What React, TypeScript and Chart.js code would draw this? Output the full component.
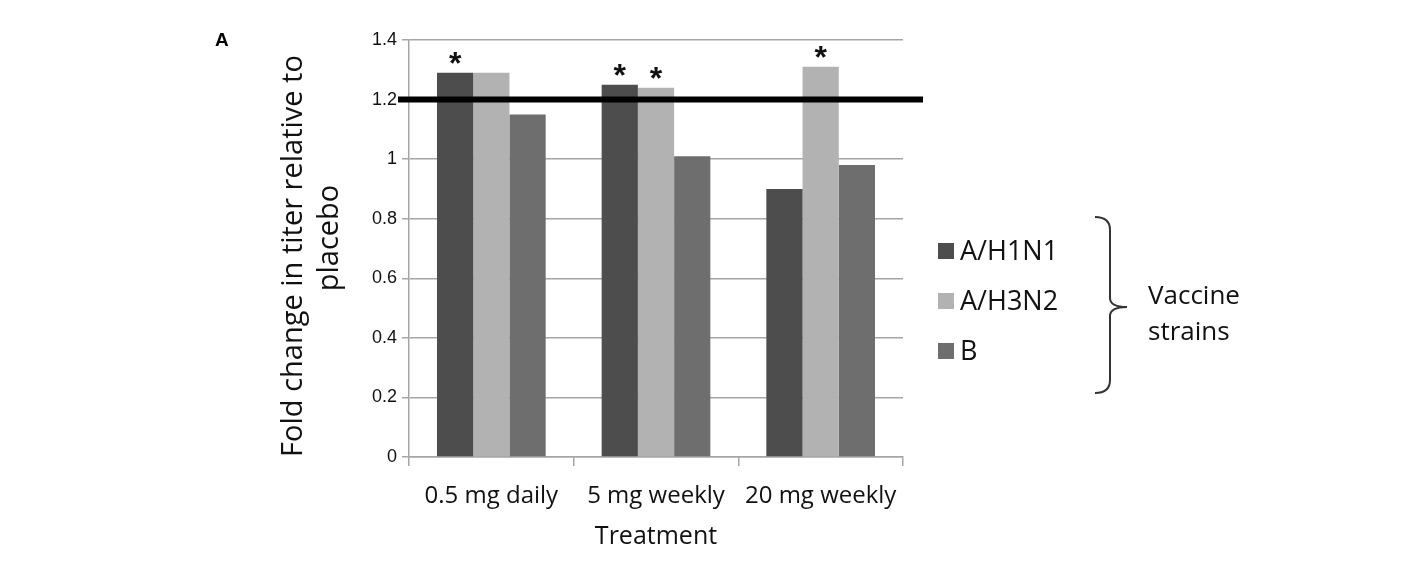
import React, { useEffect, useRef } from 'react';
import { Chart, registerables } from 'chart.js';

Chart.register(...registerables);

const TREATMENTS = ['0.5 mg daily', '5 mg weekly', '20 mg weekly'];
const STRAINS = ['A/H1N1', 'A/H3N2', 'B'];
const H1N1 = [1.29, 1.25, 0.9];
const H3N2 = [1.29, 1.24, 1.31];
const FLU_B = [1.15, 1.01, 0.98];
// asterisks above bars
const H1N1_SIG = [true, true, false];
const H3N2_SIG = [false, true, true];
const FLU_B_SIG = [false, false, false];
const COLORS = ['#4d4d4d', '#b2b2b2', '#6e6e6e'];
const Y_TICK_LABELS = ['0', '0.2', '0.4', '0.6', '0.8', '1', '1.2', '1.4'];
const THRESHOLD = 1.2;
const Y_TITLE = ['Fold change in titer relative to', 'placebo'];
const X_TITLE = 'Treatment';
const BRACKET_LABEL = ['Vaccine', 'strains'];
const PANEL = 'A';

const SIGS = [H1N1_SIG, H3N2_SIG, FLU_B_SIG];
const SANS = '"Open Sans", sans-serif';
const ARIAL = '"Liberation Sans", Arial, sans-serif';

const overlay = {
  id: 'overlay',
  afterDatasetsDraw(chart: any) {
    const { ctx, chartArea, scales } = chart;
    ctx.save();

    // significance stars
    ctx.fillStyle = '#111';
    ctx.font = `bold 32px ${ARIAL}`;
    ctx.textAlign = 'center';
    ctx.textBaseline = 'alphabetic';
    SIGS.forEach((sig, di) => {
      const meta = chart.getDatasetMeta(di);
      sig.forEach((s, i) => {
        if (!s) return;
        const bar = meta.data[i];
        ctx.fillText('*', bar.x, bar.y + 1);
      });
    });

    // threshold line
    const ty = scales.y.getPixelForValue(THRESHOLD);
    ctx.strokeStyle = '#000';
    ctx.lineWidth = 6;
    ctx.beginPath();
    ctx.moveTo(chartArea.left - 11, ty);
    ctx.lineTo(chartArea.right + 20, ty);
    ctx.stroke();

    // panel letter
    ctx.fillStyle = '#000';
    ctx.font = `bold 19px ${ARIAL}`;
    ctx.textAlign = 'left';
    ctx.textBaseline = 'alphabetic';
    ctx.fillText(PANEL, 215, 46);

    // y title, two rotated lines
    ctx.fillStyle = '#111';
    ctx.font = `29px ${SANS}`;
    ctx.textAlign = 'center';
    const yLines = [
      { x: 302, y: 256 },
      { x: 338, y: 238 },
    ];
    Y_TITLE.forEach((t, i) => {
      ctx.save();
      ctx.translate(yLines[i].x, yLines[i].y);
      ctx.rotate(-Math.PI / 2);
      ctx.fillText(t, 0, 0);
      ctx.restore();
    });

    // legend
    ctx.font = `27px ${SANS}`;
    ctx.textAlign = 'left';
    ctx.textBaseline = 'middle';
    chart.data.datasets.forEach((ds: any, i: number) => {
      const cy = 251 + i * 50;
      ctx.fillStyle = ds.backgroundColor;
      ctx.fillRect(938, cy - 8, 16, 16);
      ctx.fillStyle = '#111';
      ctx.fillText(ds.label, 960, cy + 1);
    });

    // bracket
    ctx.strokeStyle = '#333';
    ctx.lineWidth = 2;
    ctx.beginPath();
    ctx.moveTo(1095, 217);
    ctx.quadraticCurveTo(1110, 217, 1110, 230);
    ctx.lineTo(1110, 298);
    ctx.quadraticCurveTo(1110, 307, 1127, 307);
    ctx.moveTo(1110, 316);
    ctx.quadraticCurveTo(1110, 307, 1127, 307);
    ctx.moveTo(1110, 316);
    ctx.lineTo(1110, 380);
    ctx.quadraticCurveTo(1110, 393, 1095, 393);
    ctx.stroke();

    ctx.fillStyle = '#111';
    ctx.font = `26px ${SANS}`;
    ctx.fillText(BRACKET_LABEL[0], 1148, 297);
    ctx.fillText(BRACKET_LABEL[1], 1148, 333);

    ctx.restore();
  },
};

function FoldChangeChart() {
  const canvasRef = useRef<HTMLCanvasElement>(null);

  useEffect(() => {
    document.body.style.margin = '0';
    const ctx = canvasRef.current!.getContext('2d')!;
    const chart = new Chart(ctx, {
      type: 'bar',
      data: {
        labels: TREATMENTS,
        datasets: [
          { label: STRAINS[0], data: H1N1, backgroundColor: COLORS[0] },
          { label: STRAINS[1], data: H3N2, backgroundColor: COLORS[1] },
          { label: STRAINS[2], data: FLU_B, backgroundColor: COLORS[2] },
        ],
      },
      options: {
        responsive: true,
        maintainAspectRatio: false,
        animation: false,
        layout: { padding: { top: 40, right: 511, bottom: 0, left: 0 } },
        datasets: { bar: { categoryPercentage: 0.66, barPercentage: 1 } },
        plugins: { legend: { display: false }, tooltip: { enabled: false } },
        scales: {
          x: {
            afterFit: (s: any) => { s.height = 105; },
            grid: { display: true, drawOnChartArea: false, offset: true, tickLength: 9, color: '#a6a6a6', lineWidth: 1.5 },
            border: { color: '#a6a6a6', width: 1.5 },
            ticks: { color: '#111', font: { family: SANS, size: 24 }, padding: 16, maxRotation: 0 },
            title: { display: true, text: X_TITLE, color: '#111', font: { family: SANS, size: 25 }, padding: { top: 0, bottom: 10 } },
          },
          y: {
            min: 0,
            max: 1.4,
            afterFit: (s: any) => { s.width = 409; },
            grid: { color: '#a6a6a6', lineWidth: 1.5, tickLength: 7 },
            border: { color: '#a6a6a6', width: 1.5 },
            ticks: {
              stepSize: 0.2,
              color: '#111',
              font: { family: ARIAL, size: 18 },
              padding: 5,
              callback: (_v: any, i: number) => Y_TICK_LABELS[i],
            },
          },
        },
      },
      plugins: [overlay],
    });
    return () => chart.destroy();
  }, []);

  return (
    <div style={{ position: 'absolute', left: 0, top: 0, width: 1414, height: 562, background: '#fff' }}>
      <canvas ref={canvasRef} aria-label="Fold change in titer relative to placebo" />
    </div>
  );
}

export default function App() {
  return <FoldChangeChart />;
}
